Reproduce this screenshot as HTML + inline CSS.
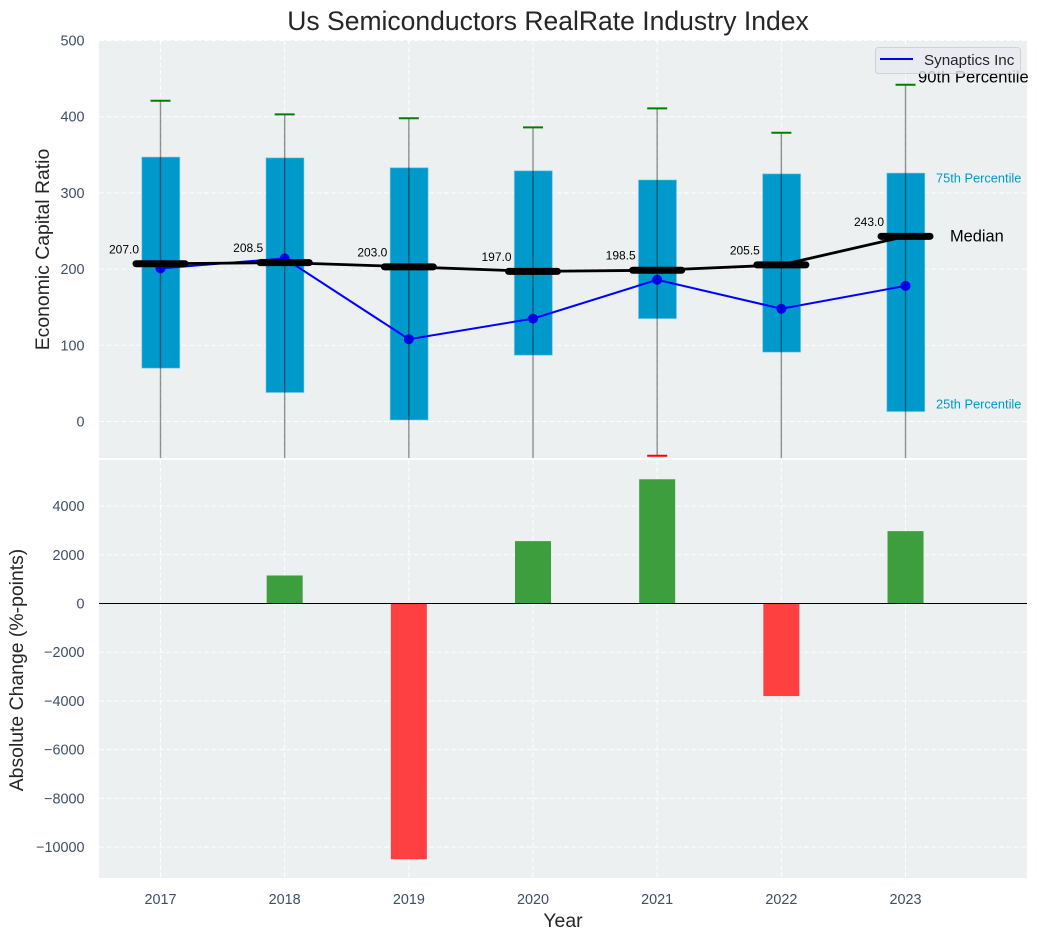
<!DOCTYPE html>
<html lang="en">
<head>
<meta charset="utf-8">
<title>Us Semiconductors RealRate Industry Index</title>
<style>
html,body{margin:0;padding:0;background:#fff;width:1038px;height:940px;overflow:hidden}
svg{display:block;font-family:"Liberation Sans",Arial,sans-serif}
</style>
</head>
<body>
<svg id="chart" xmlns="http://www.w3.org/2000/svg" width="1038" height="940" viewBox="0 0 1038 940">
  <defs>
    <clipPath id="clip-top"><rect x="99" y="40" width="928" height="418"/></clipPath>
    <clipPath id="clip-bottom"><rect x="99" y="460" width="928" height="418"/></clipPath>
  </defs>
  <rect x="99" y="40" width="928" height="418" fill="#ecf0f1"/>
  <rect x="99" y="460" width="928" height="418" fill="#ecf0f1"/>
  <g id="grid"></g>
  <g id="top" clip-path="url(#clip-top)"></g>
  <g id="bottom" clip-path="url(#clip-bottom)"></g>
  <g id="labels"></g>
  <g id="ticks"></g>
  <text x="548" y="30" font-size="26.5" fill="#262626" text-anchor="middle">Us Semiconductors RealRate Industry Index</text>
  <text transform="translate(49,249.5) rotate(-90)" font-size="19.4" fill="#262626" text-anchor="middle">Economic Capital Ratio</text>
  <text transform="translate(23,670) rotate(-90)" font-size="19.4" fill="#262626" text-anchor="middle">Absolute Change (%-points)</text>
  <text x="563" y="927" font-size="19.4" fill="#262626" text-anchor="middle">Year</text>
  <text x="918" y="82.5" font-size="16.6" fill="#000">90th Percentile</text>
  <text x="950" y="241.5" font-size="16.4" fill="#000">Median</text>
  <text x="936" y="182.5" font-size="12.8" fill="#0099cc">75th Percentile</text>
  <text x="936" y="408.5" font-size="12.8" fill="#0099cc">25th Percentile</text>
  <g>
    <rect x="875.5" y="47.5" width="145" height="26" rx="3" fill="#eaeaf2" fill-opacity="0.8" stroke="#cccccc" stroke-opacity="0.8"/>
    <line x1="880" x2="913" y1="59" y2="59" stroke="#0000ff" stroke-width="2"/>
    <text x="924" y="65" font-size="15.2" fill="#262626">Synaptics Inc</text>
  </g>
</svg>
<script>
const years = [2017, 2018, 2019, 2020, 2021, 2022, 2023];
const p90 = [421, 403, 398, 386, 411, 379, 442];
const p75 = [347, 346, 333, 329, 317, 325, 326];
const p25 = [70, 38, 2, 87, 135, 91, 13];
const p10 = [-90, -85, -95, -80, -45, -90, -95];
const medians = [207.0, 208.5, 203.0, 197.0, 198.5, 205.5, 243.0];
const synaptics = [201, 214, 108, 135, 186, 148, 178];
const changes = [0, 1150, -10500, 2560, 5100, -3800, 2970];
const topTicks = [0, 100, 200, 300, 400, 500];
const bottomTicks = [-10000, -8000, -6000, -4000, -2000, 0, 2000, 4000];

const NS = 'http://www.w3.org/2000/svg';
const x = v => 160.5 + (v - 2017) * 124.17;
const yTop = v => 421.5 - v * 0.762;
const yBottom = v => 603.5 - v * 0.02436;
const gridEl = document.getElementById('grid');
const topEl = document.getElementById('top');
const bottomEl = document.getElementById('bottom');
const labelsEl = document.getElementById('labels');
const ticksEl = document.getElementById('ticks');

function make(tag, parent, props, text) {
  const el = document.createElementNS(NS, tag);
  for (const k in props) el.setAttribute(k, props[k]);
  if (text !== undefined) el.textContent = text;
  parent.appendChild(el);
  return el;
}
const gridStyle = { stroke: '#ffffff', 'stroke-width': 1, 'stroke-dasharray': '5 2.5', 'stroke-opacity': 0.9 };

topTicks.forEach(t => {
  const g = make('line', gridEl, { x1: 99, x2: 1027, y1: yTop(t), y2: yTop(t), ...gridStyle });
  
  
  const l = make('text', ticksEl, { x: 84.5, y: yTop(t) + 5, 'font-size': 14.4, fill: '#3d4f66', 'text-anchor': 'end' }, String(t));
  
  
});
bottomTicks.forEach(t => {
  const g = make('line', gridEl, { x1: 99, x2: 1027, y1: yBottom(t), y2: yBottom(t), ...gridStyle });
  
  
  const l = make('text', ticksEl, { x: 84.5, y: yBottom(t) + 5, 'font-size': 14.4, fill: '#3d4f66', 'text-anchor': 'end' }, String(t).replace('-', '\u2212'));
  
  
});
years.forEach(yr => {
  const g1 = make('line', gridEl, { x1: x(yr), x2: x(yr), y1: 40, y2: 458, ...gridStyle });
  
  
  const g2 = make('line', gridEl, { x1: x(yr), x2: x(yr), y1: 460, y2: 878, ...gridStyle });
  
  
  const l = make('text', ticksEl, { x: x(yr), y: 904, 'font-size': 14.4, fill: '#3d4f66', 'text-anchor': 'middle' }, String(yr));
  
  
});

/* interquartile boxes */
years.forEach((yr, i) => {
  const b = make('rect', topEl, { x: x(yr) - 18.7, width: 38, y: yTop(p75[i]), height: yTop(p25[i]) - yTop(p75[i]), fill: '#0099cc', stroke: '#7fcce5', 'stroke-opacity': 0.5, 'stroke-width': 1 });
  
  
});

/* Synaptics series */
const synPts = years.map((yr, i) => x(yr) + ',' + yTop(synaptics[i])).join(' ');
const synLine = make('polyline', topEl, { points: synPts, fill: 'none', stroke: '#0000ff', 'stroke-width': 2 });


years.forEach((yr, i) => {
  const c = make('circle', topEl, { cx: x(yr), cy: yTop(synaptics[i]), r: 5, fill: '#0000ff' });
  
  
});

/* whiskers and caps */
years.forEach((yr, i) => {
  const w = make('line', topEl, { x1: x(yr), x2: x(yr), y1: yTop(p90[i]), y2: yTop(p10[i]), stroke: '#000000', 'stroke-opacity': 0.42, 'stroke-width': 1.4 });
  
  
  const hi = make('line', topEl, { x1: x(yr) - 10, x2: x(yr) + 10, y1: yTop(p90[i]), y2: yTop(p90[i]), stroke: '#008000', 'stroke-width': 2 });
  
  
  const lo = make('line', topEl, { x1: x(yr) - 10, x2: x(yr) + 10, y1: yTop(p10[i]), y2: yTop(p10[i]), stroke: '#ff0000', 'stroke-width': 2 });
  
  
});

/* median line and markers */
const medPts = years.map((yr, i) => x(yr) + ',' + yTop(medians[i])).join(' ');
const medLine = make('polyline', topEl, { points: medPts, fill: 'none', stroke: '#000000', 'stroke-width': 2.8 });


years.forEach((yr, i) => {
  const m = make('line', topEl, { x1: x(yr) - 24.5, x2: x(yr) + 24.5, y1: yTop(medians[i]), y2: yTop(medians[i]), stroke: '#000000', 'stroke-width': 7, 'stroke-linecap': 'round' });
  
  
  const t = make('text', labelsEl, { x: x(yr) - 36.5, y: yTop(medians[i]) - 10.5, 'font-size': 12, fill: '#000', 'text-anchor': 'middle' }, medians[i].toFixed(1));
  
  
});

/* change bars */
years.forEach((yr, i) => {
  const v = changes[i];
  const top = Math.min(yBottom(v), yBottom(0));
  const b = make('rect', bottomEl, { x: x(yr) - 18, width: 36, y: top, height: Math.abs(yBottom(v) - yBottom(0)), fill: v >= 0 ? '#3c9e3c' : '#ff4040' });
  
  
});
const zero = make('line', bottomEl, { x1: 99, x2: 1027, y1: yBottom(0), y2: yBottom(0), stroke: '#000000', 'stroke-width': 1 });


</script>
</body>
</html>
